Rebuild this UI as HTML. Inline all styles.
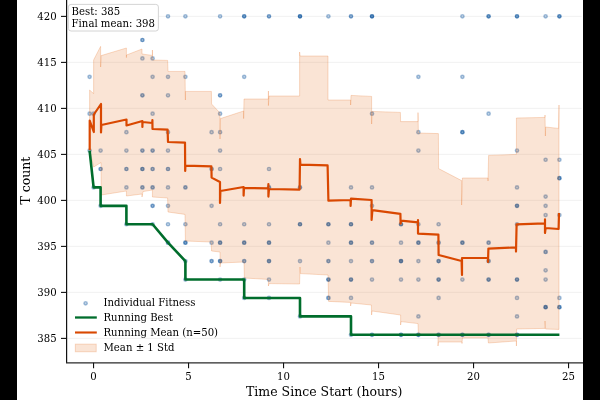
<!DOCTYPE html>
<html><head><meta charset="utf-8"><title>Fitness plot</title>
<style>
html,body{margin:0;padding:0;background:#000;}
body{width:600px;height:400px;overflow:hidden;}
svg{display:block;font-family:"DejaVu Serif","Liberation Serif",serif;}
text{fill:#000;}
</style></head><body>
<svg width="600" height="400" viewBox="0 0 600 400">
<rect x="0" y="0" width="600" height="400" fill="#000"/>
<rect x="17" y="0" width="566" height="400" fill="#fff"/>

<line x1="67" x2="581.7" y1="338.40" y2="338.40" stroke="#efefef" stroke-width="0.8"/>
<line x1="67" x2="581.7" y1="292.40" y2="292.40" stroke="#efefef" stroke-width="0.8"/>
<line x1="67" x2="581.7" y1="246.40" y2="246.40" stroke="#efefef" stroke-width="0.8"/>
<line x1="67" x2="581.7" y1="200.40" y2="200.40" stroke="#efefef" stroke-width="0.8"/>
<line x1="67" x2="581.7" y1="154.40" y2="154.40" stroke="#efefef" stroke-width="0.8"/>
<line x1="67" x2="581.7" y1="108.40" y2="108.40" stroke="#efefef" stroke-width="0.8"/>
<line x1="67" x2="581.7" y1="62.40" y2="62.40" stroke="#efefef" stroke-width="0.8"/>
<line x1="67" x2="581.7" y1="16.40" y2="16.40" stroke="#efefef" stroke-width="0.8"/>
<circle cx="89.60" cy="76.86" r="1.65" fill="#08519c" fill-opacity="0.240" stroke="#08519c" stroke-opacity="0.360" stroke-width="1.4"/>
<circle cx="89.60" cy="113.71" r="1.65" fill="#08519c" fill-opacity="0.240" stroke="#08519c" stroke-opacity="0.360" stroke-width="1.4"/>
<circle cx="89.60" cy="150.56" r="1.65" fill="#08519c" fill-opacity="0.240" stroke="#08519c" stroke-opacity="0.360" stroke-width="1.4"/>
<circle cx="93.60" cy="113.71" r="1.65" fill="#08519c" fill-opacity="0.240" stroke="#08519c" stroke-opacity="0.360" stroke-width="1.4"/>
<circle cx="93.60" cy="187.41" r="1.65" fill="#08519c" fill-opacity="0.240" stroke="#08519c" stroke-opacity="0.360" stroke-width="1.4"/>
<circle cx="100.60" cy="150.56" r="1.65" fill="#08519c" fill-opacity="0.240" stroke="#08519c" stroke-opacity="0.360" stroke-width="1.4"/>
<circle cx="100.60" cy="168.98" r="1.65" fill="#08519c" fill-opacity="0.406" stroke="#08519c" stroke-opacity="0.510" stroke-width="1.4"/>
<circle cx="100.60" cy="205.83" r="1.65" fill="#08519c" fill-opacity="0.240" stroke="#08519c" stroke-opacity="0.360" stroke-width="1.4"/>
<circle cx="126.40" cy="132.14" r="1.65" fill="#08519c" fill-opacity="0.240" stroke="#08519c" stroke-opacity="0.360" stroke-width="1.4"/>
<circle cx="126.40" cy="150.56" r="1.65" fill="#08519c" fill-opacity="0.240" stroke="#08519c" stroke-opacity="0.360" stroke-width="1.4"/>
<circle cx="126.40" cy="168.98" r="1.65" fill="#08519c" fill-opacity="0.406" stroke="#08519c" stroke-opacity="0.510" stroke-width="1.4"/>
<circle cx="126.40" cy="187.41" r="1.65" fill="#08519c" fill-opacity="0.240" stroke="#08519c" stroke-opacity="0.360" stroke-width="1.4"/>
<circle cx="126.40" cy="224.26" r="1.65" fill="#08519c" fill-opacity="0.240" stroke="#08519c" stroke-opacity="0.360" stroke-width="1.4"/>
<circle cx="142.40" cy="40.02" r="1.65" fill="#08519c" fill-opacity="0.406" stroke="#08519c" stroke-opacity="0.510" stroke-width="1.4"/>
<circle cx="142.40" cy="58.44" r="1.65" fill="#08519c" fill-opacity="0.240" stroke="#08519c" stroke-opacity="0.360" stroke-width="1.4"/>
<circle cx="142.40" cy="95.29" r="1.65" fill="#08519c" fill-opacity="0.406" stroke="#08519c" stroke-opacity="0.510" stroke-width="1.4"/>
<circle cx="142.40" cy="150.56" r="1.65" fill="#08519c" fill-opacity="0.406" stroke="#08519c" stroke-opacity="0.510" stroke-width="1.4"/>
<circle cx="142.40" cy="168.98" r="1.65" fill="#08519c" fill-opacity="0.536" stroke="#08519c" stroke-opacity="0.625" stroke-width="1.4"/>
<circle cx="142.40" cy="187.41" r="1.65" fill="#08519c" fill-opacity="0.406" stroke="#08519c" stroke-opacity="0.510" stroke-width="1.4"/>
<circle cx="152.60" cy="58.44" r="1.65" fill="#08519c" fill-opacity="0.240" stroke="#08519c" stroke-opacity="0.360" stroke-width="1.4"/>
<circle cx="152.60" cy="76.86" r="1.65" fill="#08519c" fill-opacity="0.240" stroke="#08519c" stroke-opacity="0.360" stroke-width="1.4"/>
<circle cx="152.60" cy="113.71" r="1.65" fill="#08519c" fill-opacity="0.240" stroke="#08519c" stroke-opacity="0.360" stroke-width="1.4"/>
<circle cx="152.60" cy="150.56" r="1.65" fill="#08519c" fill-opacity="0.406" stroke="#08519c" stroke-opacity="0.510" stroke-width="1.4"/>
<circle cx="152.60" cy="168.98" r="1.65" fill="#08519c" fill-opacity="0.406" stroke="#08519c" stroke-opacity="0.510" stroke-width="1.4"/>
<circle cx="152.60" cy="187.41" r="1.65" fill="#08519c" fill-opacity="0.406" stroke="#08519c" stroke-opacity="0.510" stroke-width="1.4"/>
<circle cx="152.60" cy="205.83" r="1.65" fill="#08519c" fill-opacity="0.406" stroke="#08519c" stroke-opacity="0.510" stroke-width="1.4"/>
<circle cx="152.60" cy="224.26" r="1.65" fill="#08519c" fill-opacity="0.240" stroke="#08519c" stroke-opacity="0.360" stroke-width="1.4"/>
<circle cx="168.00" cy="16.30" r="1.65" fill="#08519c" fill-opacity="0.240" stroke="#08519c" stroke-opacity="0.360" stroke-width="1.4"/>
<circle cx="168.00" cy="76.86" r="1.65" fill="#08519c" fill-opacity="0.240" stroke="#08519c" stroke-opacity="0.360" stroke-width="1.4"/>
<circle cx="168.00" cy="95.29" r="1.65" fill="#08519c" fill-opacity="0.240" stroke="#08519c" stroke-opacity="0.360" stroke-width="1.4"/>
<circle cx="168.00" cy="132.14" r="1.65" fill="#08519c" fill-opacity="0.240" stroke="#08519c" stroke-opacity="0.360" stroke-width="1.4"/>
<circle cx="168.00" cy="150.56" r="1.65" fill="#08519c" fill-opacity="0.240" stroke="#08519c" stroke-opacity="0.360" stroke-width="1.4"/>
<circle cx="168.00" cy="168.98" r="1.65" fill="#08519c" fill-opacity="0.406" stroke="#08519c" stroke-opacity="0.510" stroke-width="1.4"/>
<circle cx="168.00" cy="187.41" r="1.65" fill="#08519c" fill-opacity="0.240" stroke="#08519c" stroke-opacity="0.360" stroke-width="1.4"/>
<circle cx="168.00" cy="205.83" r="1.65" fill="#08519c" fill-opacity="0.240" stroke="#08519c" stroke-opacity="0.360" stroke-width="1.4"/>
<circle cx="168.00" cy="224.26" r="1.65" fill="#08519c" fill-opacity="0.240" stroke="#08519c" stroke-opacity="0.360" stroke-width="1.4"/>
<circle cx="168.00" cy="242.68" r="1.65" fill="#08519c" fill-opacity="0.406" stroke="#08519c" stroke-opacity="0.510" stroke-width="1.4"/>
<circle cx="185.40" cy="16.30" r="1.65" fill="#08519c" fill-opacity="0.240" stroke="#08519c" stroke-opacity="0.360" stroke-width="1.4"/>
<circle cx="185.40" cy="76.86" r="1.65" fill="#08519c" fill-opacity="0.240" stroke="#08519c" stroke-opacity="0.360" stroke-width="1.4"/>
<circle cx="185.40" cy="187.41" r="1.65" fill="#08519c" fill-opacity="0.406" stroke="#08519c" stroke-opacity="0.510" stroke-width="1.4"/>
<circle cx="185.40" cy="224.26" r="1.65" fill="#08519c" fill-opacity="0.240" stroke="#08519c" stroke-opacity="0.360" stroke-width="1.4"/>
<circle cx="185.40" cy="242.68" r="1.65" fill="#08519c" fill-opacity="0.536" stroke="#08519c" stroke-opacity="0.625" stroke-width="1.4"/>
<circle cx="185.40" cy="261.10" r="1.65" fill="#08519c" fill-opacity="0.240" stroke="#08519c" stroke-opacity="0.360" stroke-width="1.4"/>
<circle cx="185.40" cy="279.53" r="1.65" fill="#08519c" fill-opacity="0.240" stroke="#08519c" stroke-opacity="0.360" stroke-width="1.4"/>
<circle cx="211.60" cy="132.14" r="1.65" fill="#08519c" fill-opacity="0.240" stroke="#08519c" stroke-opacity="0.360" stroke-width="1.4"/>
<circle cx="211.60" cy="168.98" r="1.65" fill="#08519c" fill-opacity="0.406" stroke="#08519c" stroke-opacity="0.510" stroke-width="1.4"/>
<circle cx="211.60" cy="205.83" r="1.65" fill="#08519c" fill-opacity="0.240" stroke="#08519c" stroke-opacity="0.360" stroke-width="1.4"/>
<circle cx="211.60" cy="242.68" r="1.65" fill="#08519c" fill-opacity="0.240" stroke="#08519c" stroke-opacity="0.360" stroke-width="1.4"/>
<circle cx="211.60" cy="261.10" r="1.65" fill="#08519c" fill-opacity="0.406" stroke="#08519c" stroke-opacity="0.510" stroke-width="1.4"/>
<circle cx="220.10" cy="16.30" r="1.65" fill="#08519c" fill-opacity="0.240" stroke="#08519c" stroke-opacity="0.360" stroke-width="1.4"/>
<circle cx="220.10" cy="95.29" r="1.65" fill="#08519c" fill-opacity="0.406" stroke="#08519c" stroke-opacity="0.510" stroke-width="1.4"/>
<circle cx="220.10" cy="113.71" r="1.65" fill="#08519c" fill-opacity="0.240" stroke="#08519c" stroke-opacity="0.360" stroke-width="1.4"/>
<circle cx="220.10" cy="132.14" r="1.65" fill="#08519c" fill-opacity="0.240" stroke="#08519c" stroke-opacity="0.360" stroke-width="1.4"/>
<circle cx="220.10" cy="150.56" r="1.65" fill="#08519c" fill-opacity="0.240" stroke="#08519c" stroke-opacity="0.360" stroke-width="1.4"/>
<circle cx="220.10" cy="168.98" r="1.65" fill="#08519c" fill-opacity="0.240" stroke="#08519c" stroke-opacity="0.360" stroke-width="1.4"/>
<circle cx="220.10" cy="224.26" r="1.65" fill="#08519c" fill-opacity="0.240" stroke="#08519c" stroke-opacity="0.360" stroke-width="1.4"/>
<circle cx="220.10" cy="242.68" r="1.65" fill="#08519c" fill-opacity="0.536" stroke="#08519c" stroke-opacity="0.625" stroke-width="1.4"/>
<circle cx="220.10" cy="261.10" r="1.65" fill="#08519c" fill-opacity="0.536" stroke="#08519c" stroke-opacity="0.625" stroke-width="1.4"/>
<circle cx="220.10" cy="279.53" r="1.65" fill="#08519c" fill-opacity="0.240" stroke="#08519c" stroke-opacity="0.360" stroke-width="1.4"/>
<circle cx="244.20" cy="16.30" r="1.65" fill="#08519c" fill-opacity="0.536" stroke="#08519c" stroke-opacity="0.625" stroke-width="1.4"/>
<circle cx="244.20" cy="76.86" r="1.65" fill="#08519c" fill-opacity="0.240" stroke="#08519c" stroke-opacity="0.360" stroke-width="1.4"/>
<circle cx="244.20" cy="224.26" r="1.65" fill="#08519c" fill-opacity="0.240" stroke="#08519c" stroke-opacity="0.360" stroke-width="1.4"/>
<circle cx="244.20" cy="242.68" r="1.65" fill="#08519c" fill-opacity="0.536" stroke="#08519c" stroke-opacity="0.625" stroke-width="1.4"/>
<circle cx="244.20" cy="261.10" r="1.65" fill="#08519c" fill-opacity="0.406" stroke="#08519c" stroke-opacity="0.510" stroke-width="1.4"/>
<circle cx="244.20" cy="279.53" r="1.65" fill="#08519c" fill-opacity="0.240" stroke="#08519c" stroke-opacity="0.360" stroke-width="1.4"/>
<circle cx="244.20" cy="297.95" r="1.65" fill="#08519c" fill-opacity="0.240" stroke="#08519c" stroke-opacity="0.360" stroke-width="1.4"/>
<circle cx="269.00" cy="16.30" r="1.65" fill="#08519c" fill-opacity="0.406" stroke="#08519c" stroke-opacity="0.510" stroke-width="1.4"/>
<circle cx="269.00" cy="168.98" r="1.65" fill="#08519c" fill-opacity="0.240" stroke="#08519c" stroke-opacity="0.360" stroke-width="1.4"/>
<circle cx="269.00" cy="187.41" r="1.65" fill="#08519c" fill-opacity="0.406" stroke="#08519c" stroke-opacity="0.510" stroke-width="1.4"/>
<circle cx="269.00" cy="224.26" r="1.65" fill="#08519c" fill-opacity="0.240" stroke="#08519c" stroke-opacity="0.360" stroke-width="1.4"/>
<circle cx="269.00" cy="242.68" r="1.65" fill="#08519c" fill-opacity="0.536" stroke="#08519c" stroke-opacity="0.625" stroke-width="1.4"/>
<circle cx="269.00" cy="261.10" r="1.65" fill="#08519c" fill-opacity="0.536" stroke="#08519c" stroke-opacity="0.625" stroke-width="1.4"/>
<circle cx="269.00" cy="279.53" r="1.65" fill="#08519c" fill-opacity="0.240" stroke="#08519c" stroke-opacity="0.360" stroke-width="1.4"/>
<circle cx="269.00" cy="297.95" r="1.65" fill="#08519c" fill-opacity="0.240" stroke="#08519c" stroke-opacity="0.360" stroke-width="1.4"/>
<circle cx="300.00" cy="16.30" r="1.65" fill="#08519c" fill-opacity="0.638" stroke="#08519c" stroke-opacity="0.713" stroke-width="1.4"/>
<circle cx="300.00" cy="187.41" r="1.65" fill="#08519c" fill-opacity="0.406" stroke="#08519c" stroke-opacity="0.510" stroke-width="1.4"/>
<circle cx="300.00" cy="224.26" r="1.65" fill="#08519c" fill-opacity="0.536" stroke="#08519c" stroke-opacity="0.625" stroke-width="1.4"/>
<circle cx="300.00" cy="261.10" r="1.65" fill="#08519c" fill-opacity="0.240" stroke="#08519c" stroke-opacity="0.360" stroke-width="1.4"/>
<circle cx="300.00" cy="316.38" r="1.65" fill="#08519c" fill-opacity="0.240" stroke="#08519c" stroke-opacity="0.360" stroke-width="1.4"/>
<circle cx="328.40" cy="16.30" r="1.65" fill="#08519c" fill-opacity="0.240" stroke="#08519c" stroke-opacity="0.360" stroke-width="1.4"/>
<circle cx="328.40" cy="224.26" r="1.65" fill="#08519c" fill-opacity="0.536" stroke="#08519c" stroke-opacity="0.625" stroke-width="1.4"/>
<circle cx="328.40" cy="242.68" r="1.65" fill="#08519c" fill-opacity="0.240" stroke="#08519c" stroke-opacity="0.360" stroke-width="1.4"/>
<circle cx="328.40" cy="261.10" r="1.65" fill="#08519c" fill-opacity="0.406" stroke="#08519c" stroke-opacity="0.510" stroke-width="1.4"/>
<circle cx="328.40" cy="279.53" r="1.65" fill="#08519c" fill-opacity="0.536" stroke="#08519c" stroke-opacity="0.625" stroke-width="1.4"/>
<circle cx="328.40" cy="297.95" r="1.65" fill="#08519c" fill-opacity="0.406" stroke="#08519c" stroke-opacity="0.510" stroke-width="1.4"/>
<circle cx="351.00" cy="16.30" r="1.65" fill="#08519c" fill-opacity="0.406" stroke="#08519c" stroke-opacity="0.510" stroke-width="1.4"/>
<circle cx="351.00" cy="187.41" r="1.65" fill="#08519c" fill-opacity="0.240" stroke="#08519c" stroke-opacity="0.360" stroke-width="1.4"/>
<circle cx="351.00" cy="224.26" r="1.65" fill="#08519c" fill-opacity="0.536" stroke="#08519c" stroke-opacity="0.625" stroke-width="1.4"/>
<circle cx="351.00" cy="242.68" r="1.65" fill="#08519c" fill-opacity="0.536" stroke="#08519c" stroke-opacity="0.625" stroke-width="1.4"/>
<circle cx="351.00" cy="261.10" r="1.65" fill="#08519c" fill-opacity="0.240" stroke="#08519c" stroke-opacity="0.360" stroke-width="1.4"/>
<circle cx="351.00" cy="279.53" r="1.65" fill="#08519c" fill-opacity="0.536" stroke="#08519c" stroke-opacity="0.625" stroke-width="1.4"/>
<circle cx="351.00" cy="297.95" r="1.65" fill="#08519c" fill-opacity="0.240" stroke="#08519c" stroke-opacity="0.360" stroke-width="1.4"/>
<circle cx="351.00" cy="334.80" r="1.65" fill="#08519c" fill-opacity="0.240" stroke="#08519c" stroke-opacity="0.360" stroke-width="1.4"/>
<circle cx="372.00" cy="16.30" r="1.65" fill="#08519c" fill-opacity="0.638" stroke="#08519c" stroke-opacity="0.713" stroke-width="1.4"/>
<circle cx="372.00" cy="113.71" r="1.65" fill="#08519c" fill-opacity="0.240" stroke="#08519c" stroke-opacity="0.360" stroke-width="1.4"/>
<circle cx="372.00" cy="187.41" r="1.65" fill="#08519c" fill-opacity="0.240" stroke="#08519c" stroke-opacity="0.360" stroke-width="1.4"/>
<circle cx="372.00" cy="205.83" r="1.65" fill="#08519c" fill-opacity="0.240" stroke="#08519c" stroke-opacity="0.360" stroke-width="1.4"/>
<circle cx="372.00" cy="242.68" r="1.65" fill="#08519c" fill-opacity="0.406" stroke="#08519c" stroke-opacity="0.510" stroke-width="1.4"/>
<circle cx="372.00" cy="261.10" r="1.65" fill="#08519c" fill-opacity="0.406" stroke="#08519c" stroke-opacity="0.510" stroke-width="1.4"/>
<circle cx="372.00" cy="279.53" r="1.65" fill="#08519c" fill-opacity="0.240" stroke="#08519c" stroke-opacity="0.360" stroke-width="1.4"/>
<circle cx="372.00" cy="334.80" r="1.65" fill="#08519c" fill-opacity="0.406" stroke="#08519c" stroke-opacity="0.510" stroke-width="1.4"/>
<circle cx="401.00" cy="224.26" r="1.65" fill="#08519c" fill-opacity="0.536" stroke="#08519c" stroke-opacity="0.625" stroke-width="1.4"/>
<circle cx="401.00" cy="242.68" r="1.65" fill="#08519c" fill-opacity="0.240" stroke="#08519c" stroke-opacity="0.360" stroke-width="1.4"/>
<circle cx="401.00" cy="261.10" r="1.65" fill="#08519c" fill-opacity="0.638" stroke="#08519c" stroke-opacity="0.713" stroke-width="1.4"/>
<circle cx="401.00" cy="279.53" r="1.65" fill="#08519c" fill-opacity="0.240" stroke="#08519c" stroke-opacity="0.360" stroke-width="1.4"/>
<circle cx="401.00" cy="334.80" r="1.65" fill="#08519c" fill-opacity="0.536" stroke="#08519c" stroke-opacity="0.625" stroke-width="1.4"/>
<circle cx="418.40" cy="76.86" r="1.65" fill="#08519c" fill-opacity="0.240" stroke="#08519c" stroke-opacity="0.360" stroke-width="1.4"/>
<circle cx="418.40" cy="132.14" r="1.65" fill="#08519c" fill-opacity="0.240" stroke="#08519c" stroke-opacity="0.360" stroke-width="1.4"/>
<circle cx="418.40" cy="150.56" r="1.65" fill="#08519c" fill-opacity="0.240" stroke="#08519c" stroke-opacity="0.360" stroke-width="1.4"/>
<circle cx="418.40" cy="224.26" r="1.65" fill="#08519c" fill-opacity="0.240" stroke="#08519c" stroke-opacity="0.360" stroke-width="1.4"/>
<circle cx="418.40" cy="242.68" r="1.65" fill="#08519c" fill-opacity="0.536" stroke="#08519c" stroke-opacity="0.625" stroke-width="1.4"/>
<circle cx="418.40" cy="261.10" r="1.65" fill="#08519c" fill-opacity="0.240" stroke="#08519c" stroke-opacity="0.360" stroke-width="1.4"/>
<circle cx="418.40" cy="279.53" r="1.65" fill="#08519c" fill-opacity="0.240" stroke="#08519c" stroke-opacity="0.360" stroke-width="1.4"/>
<circle cx="418.40" cy="316.38" r="1.65" fill="#08519c" fill-opacity="0.240" stroke="#08519c" stroke-opacity="0.360" stroke-width="1.4"/>
<circle cx="418.40" cy="334.80" r="1.65" fill="#08519c" fill-opacity="0.536" stroke="#08519c" stroke-opacity="0.625" stroke-width="1.4"/>
<circle cx="438.60" cy="224.26" r="1.65" fill="#08519c" fill-opacity="0.240" stroke="#08519c" stroke-opacity="0.360" stroke-width="1.4"/>
<circle cx="438.60" cy="242.68" r="1.65" fill="#08519c" fill-opacity="0.406" stroke="#08519c" stroke-opacity="0.510" stroke-width="1.4"/>
<circle cx="438.60" cy="261.10" r="1.65" fill="#08519c" fill-opacity="0.536" stroke="#08519c" stroke-opacity="0.625" stroke-width="1.4"/>
<circle cx="438.60" cy="279.53" r="1.65" fill="#08519c" fill-opacity="0.536" stroke="#08519c" stroke-opacity="0.625" stroke-width="1.4"/>
<circle cx="438.60" cy="297.95" r="1.65" fill="#08519c" fill-opacity="0.240" stroke="#08519c" stroke-opacity="0.360" stroke-width="1.4"/>
<circle cx="438.60" cy="334.80" r="1.65" fill="#08519c" fill-opacity="0.536" stroke="#08519c" stroke-opacity="0.625" stroke-width="1.4"/>
<circle cx="462.40" cy="16.30" r="1.65" fill="#08519c" fill-opacity="0.240" stroke="#08519c" stroke-opacity="0.360" stroke-width="1.4"/>
<circle cx="462.40" cy="76.86" r="1.65" fill="#08519c" fill-opacity="0.240" stroke="#08519c" stroke-opacity="0.360" stroke-width="1.4"/>
<circle cx="462.40" cy="132.14" r="1.65" fill="#08519c" fill-opacity="0.536" stroke="#08519c" stroke-opacity="0.625" stroke-width="1.4"/>
<circle cx="462.40" cy="242.68" r="1.65" fill="#08519c" fill-opacity="0.536" stroke="#08519c" stroke-opacity="0.625" stroke-width="1.4"/>
<circle cx="462.40" cy="279.53" r="1.65" fill="#08519c" fill-opacity="0.240" stroke="#08519c" stroke-opacity="0.360" stroke-width="1.4"/>
<circle cx="462.40" cy="334.80" r="1.65" fill="#08519c" fill-opacity="0.536" stroke="#08519c" stroke-opacity="0.625" stroke-width="1.4"/>
<circle cx="488.60" cy="16.30" r="1.65" fill="#08519c" fill-opacity="0.536" stroke="#08519c" stroke-opacity="0.625" stroke-width="1.4"/>
<circle cx="488.60" cy="113.71" r="1.65" fill="#08519c" fill-opacity="0.240" stroke="#08519c" stroke-opacity="0.360" stroke-width="1.4"/>
<circle cx="488.60" cy="242.68" r="1.65" fill="#08519c" fill-opacity="0.406" stroke="#08519c" stroke-opacity="0.510" stroke-width="1.4"/>
<circle cx="488.60" cy="261.10" r="1.65" fill="#08519c" fill-opacity="0.406" stroke="#08519c" stroke-opacity="0.510" stroke-width="1.4"/>
<circle cx="488.60" cy="279.53" r="1.65" fill="#08519c" fill-opacity="0.536" stroke="#08519c" stroke-opacity="0.625" stroke-width="1.4"/>
<circle cx="488.60" cy="334.80" r="1.65" fill="#08519c" fill-opacity="0.536" stroke="#08519c" stroke-opacity="0.625" stroke-width="1.4"/>
<circle cx="517.00" cy="16.30" r="1.65" fill="#08519c" fill-opacity="0.536" stroke="#08519c" stroke-opacity="0.625" stroke-width="1.4"/>
<circle cx="517.00" cy="150.56" r="1.65" fill="#08519c" fill-opacity="0.240" stroke="#08519c" stroke-opacity="0.360" stroke-width="1.4"/>
<circle cx="517.00" cy="187.41" r="1.65" fill="#08519c" fill-opacity="0.240" stroke="#08519c" stroke-opacity="0.360" stroke-width="1.4"/>
<circle cx="517.00" cy="205.83" r="1.65" fill="#08519c" fill-opacity="0.536" stroke="#08519c" stroke-opacity="0.625" stroke-width="1.4"/>
<circle cx="517.00" cy="224.26" r="1.65" fill="#08519c" fill-opacity="0.240" stroke="#08519c" stroke-opacity="0.360" stroke-width="1.4"/>
<circle cx="517.00" cy="279.53" r="1.65" fill="#08519c" fill-opacity="0.536" stroke="#08519c" stroke-opacity="0.625" stroke-width="1.4"/>
<circle cx="517.00" cy="297.95" r="1.65" fill="#08519c" fill-opacity="0.240" stroke="#08519c" stroke-opacity="0.360" stroke-width="1.4"/>
<circle cx="517.00" cy="316.38" r="1.65" fill="#08519c" fill-opacity="0.240" stroke="#08519c" stroke-opacity="0.360" stroke-width="1.4"/>
<circle cx="517.00" cy="334.80" r="1.65" fill="#08519c" fill-opacity="0.536" stroke="#08519c" stroke-opacity="0.625" stroke-width="1.4"/>
<circle cx="545.60" cy="16.30" r="1.65" fill="#08519c" fill-opacity="0.240" stroke="#08519c" stroke-opacity="0.360" stroke-width="1.4"/>
<circle cx="545.60" cy="159.77" r="1.65" fill="#08519c" fill-opacity="0.240" stroke="#08519c" stroke-opacity="0.360" stroke-width="1.4"/>
<circle cx="545.60" cy="196.62" r="1.65" fill="#08519c" fill-opacity="0.240" stroke="#08519c" stroke-opacity="0.360" stroke-width="1.4"/>
<circle cx="545.60" cy="205.83" r="1.65" fill="#08519c" fill-opacity="0.240" stroke="#08519c" stroke-opacity="0.360" stroke-width="1.4"/>
<circle cx="545.60" cy="215.04" r="1.65" fill="#08519c" fill-opacity="0.240" stroke="#08519c" stroke-opacity="0.360" stroke-width="1.4"/>
<circle cx="545.60" cy="251.89" r="1.65" fill="#08519c" fill-opacity="0.406" stroke="#08519c" stroke-opacity="0.510" stroke-width="1.4"/>
<circle cx="545.60" cy="270.32" r="1.65" fill="#08519c" fill-opacity="0.240" stroke="#08519c" stroke-opacity="0.360" stroke-width="1.4"/>
<circle cx="545.60" cy="279.53" r="1.65" fill="#08519c" fill-opacity="0.240" stroke="#08519c" stroke-opacity="0.360" stroke-width="1.4"/>
<circle cx="545.60" cy="307.16" r="1.65" fill="#08519c" fill-opacity="0.638" stroke="#08519c" stroke-opacity="0.713" stroke-width="1.4"/>
<circle cx="559.40" cy="16.30" r="1.65" fill="#08519c" fill-opacity="0.536" stroke="#08519c" stroke-opacity="0.625" stroke-width="1.4"/>
<circle cx="559.40" cy="159.77" r="1.65" fill="#08519c" fill-opacity="0.240" stroke="#08519c" stroke-opacity="0.360" stroke-width="1.4"/>
<circle cx="559.40" cy="178.20" r="1.65" fill="#08519c" fill-opacity="0.536" stroke="#08519c" stroke-opacity="0.625" stroke-width="1.4"/>
<circle cx="559.40" cy="215.04" r="1.65" fill="#08519c" fill-opacity="0.240" stroke="#08519c" stroke-opacity="0.360" stroke-width="1.4"/>
<circle cx="559.40" cy="297.95" r="1.65" fill="#08519c" fill-opacity="0.240" stroke="#08519c" stroke-opacity="0.360" stroke-width="1.4"/>
<circle cx="559.40" cy="307.16" r="1.65" fill="#08519c" fill-opacity="0.536" stroke="#08519c" stroke-opacity="0.625" stroke-width="1.4"/>
<polygon points="89.60,150.00 89.60,90.00 93.60,93.60 93.60,60.00 100.60,46.40 100.60,67.00 101.20,55.60 126.40,48.00 126.40,57.60 126.50,55.00 142.00,49.00 142.00,54.00 152.40,55.40 152.40,50.00 152.60,60.00 167.60,60.40 168.00,71.40 185.00,71.40 185.40,100.00 185.40,91.40 211.40,91.40 211.60,104.00 220.00,113.00 220.00,139.00 220.40,118.60 243.60,111.00 243.60,118.60 244.00,99.00 268.40,99.00 268.40,91.00 268.40,105.60 269.00,96.00 299.60,96.00 299.60,52.00 300.00,56.00 328.00,56.00 328.00,100.00 350.60,100.00 350.60,105.00 351.00,95.40 371.60,96.40 371.60,124.00 372.00,111.40 400.40,112.40 400.60,121.60 418.00,121.60 418.00,112.60 418.40,133.00 438.40,133.60 438.60,168.60 461.60,180.60 461.60,205.00 462.40,178.00 488.00,178.00 488.00,181.00 488.60,155.40 516.40,154.40 516.40,118.00 545.00,117.40 545.00,115.00 545.40,136.00 545.60,127.00 558.60,128.40 559.00,105.00 559.00,329.40 558.60,329.40 545.60,329.00 545.00,321.00 545.00,328.40 516.60,329.00 516.40,346.00 516.40,341.00 488.40,343.00 488.00,338.00 462.40,338.00 462.00,343.50 462.00,342.00 438.40,342.00 438.00,346.00 438.00,335.50 418.40,335.00 418.00,323.60 401.00,321.60 400.60,325.00 400.60,315.00 372.00,311.00 371.60,315.00 371.40,305.00 351.00,303.00 350.60,306.00 350.60,302.40 328.60,301.40 328.00,275.00 300.40,273.60 300.00,267.00 299.60,284.00 269.00,283.60 268.40,286.00 268.40,279.40 244.40,278.00 244.00,262.00 220.40,263.00 220.00,267.00 220.00,252.00 211.60,251.00 211.00,242.00 185.40,241.00 185.00,214.40 168.00,212.00 167.60,198.00 152.40,197.00 152.40,190.00 143.00,191.60 142.00,197.00 142.00,194.00 126.40,196.00 126.40,191.00 101.20,195.00 101.00,162.50 93.70,167.00 89.70,150.00" fill="#e25c00" fill-opacity="0.165" stroke="#e25c00" stroke-opacity="0.23" stroke-width="0.9" stroke-linejoin="round"/>
<polyline points="89.70,150.00 89.70,120.50 93.80,132.00 93.80,114.50 101.00,104.00 101.00,132.50 101.40,125.00 126.50,119.50 126.50,125.50 142.40,121.00 142.40,127.00 142.50,122.00 152.40,123.00 152.40,120.00 152.50,129.00 167.60,129.60 168.00,142.00 185.00,142.60 185.20,171.00 185.40,165.60 211.40,166.40 211.60,177.60 220.00,182.00 220.00,203.00 220.40,191.00 243.60,187.00 243.60,195.60 244.00,188.00 268.40,188.40 268.40,184.00 268.40,196.60 269.00,189.00 299.60,189.60 300.00,159.00 300.40,164.60 327.60,165.40 328.40,200.60 350.60,200.00 350.60,206.00 351.00,198.60 371.60,200.00 371.60,220.00 372.40,210.20 400.40,213.80 400.60,223.60 401.00,220.60 418.00,222.40 418.00,220.00 418.00,233.60 438.40,234.60 438.60,255.00 461.60,261.00 462.00,275.00 462.00,258.00 488.00,258.00 488.00,262.00 488.40,248.60 516.00,247.40 516.00,251.60 516.60,224.40 545.00,223.40 545.00,219.40 545.00,233.00 545.60,228.00 558.60,229.00 559.00,213.00" fill="none" stroke="#d94801" stroke-width="2.2" stroke-linejoin="round" stroke-linecap="butt"/>
<polyline points="89.60,150.56 93.60,187.41 100.60,187.41 100.60,205.83 126.40,205.83 126.40,224.26 152.60,224.26 168.00,242.68 185.40,261.10 185.40,279.53 244.20,279.53 244.20,297.95 300.00,297.95 300.00,316.38 351.00,316.38 351.00,334.80 559.40,334.80" fill="none" stroke="#006d2c" stroke-width="2.6" stroke-linejoin="round" stroke-linecap="butt"/>
<line x1="66.6" x2="66.6" y1="0" y2="363" stroke="#111" stroke-width="1.2"/>
<line x1="66" x2="583" y1="362.85" y2="362.85" stroke="#2a2a2a" stroke-width="1.15"/>
<line x1="61" x2="66.6" y1="338.40" y2="338.40" stroke="#111" stroke-width="1.1"/>
<text x="56.6" y="342.00" font-size="10.13" text-anchor="end">385</text>
<line x1="61" x2="66.6" y1="292.40" y2="292.40" stroke="#111" stroke-width="1.1"/>
<text x="56.6" y="296.00" font-size="10.13" text-anchor="end">390</text>
<line x1="61" x2="66.6" y1="246.40" y2="246.40" stroke="#111" stroke-width="1.1"/>
<text x="56.6" y="250.00" font-size="10.13" text-anchor="end">395</text>
<line x1="61" x2="66.6" y1="200.40" y2="200.40" stroke="#111" stroke-width="1.1"/>
<text x="56.6" y="204.00" font-size="10.13" text-anchor="end">400</text>
<line x1="61" x2="66.6" y1="154.40" y2="154.40" stroke="#111" stroke-width="1.1"/>
<text x="56.6" y="158.00" font-size="10.13" text-anchor="end">405</text>
<line x1="61" x2="66.6" y1="108.40" y2="108.40" stroke="#111" stroke-width="1.1"/>
<text x="56.6" y="112.00" font-size="10.13" text-anchor="end">410</text>
<line x1="61" x2="66.6" y1="62.40" y2="62.40" stroke="#111" stroke-width="1.1"/>
<text x="56.6" y="66.00" font-size="10.13" text-anchor="end">415</text>
<line x1="61" x2="66.6" y1="16.40" y2="16.40" stroke="#111" stroke-width="1.1"/>
<text x="56.6" y="20.00" font-size="10.13" text-anchor="end">420</text>
<line x1="93.55" x2="93.55" y1="362.85" y2="368.2" stroke="#111" stroke-width="1.1"/>
<text x="93.55" y="379.6" font-size="10.13" text-anchor="middle">0</text>
<line x1="188.55" x2="188.55" y1="362.85" y2="368.2" stroke="#111" stroke-width="1.1"/>
<text x="188.55" y="379.6" font-size="10.13" text-anchor="middle">5</text>
<line x1="283.55" x2="283.55" y1="362.85" y2="368.2" stroke="#111" stroke-width="1.1"/>
<text x="283.55" y="379.6" font-size="10.13" text-anchor="middle">10</text>
<line x1="378.55" x2="378.55" y1="362.85" y2="368.2" stroke="#111" stroke-width="1.1"/>
<text x="378.55" y="379.6" font-size="10.13" text-anchor="middle">15</text>
<line x1="473.55" x2="473.55" y1="362.85" y2="368.2" stroke="#111" stroke-width="1.1"/>
<text x="473.55" y="379.6" font-size="10.13" text-anchor="middle">20</text>
<line x1="568.55" x2="568.55" y1="362.85" y2="368.2" stroke="#111" stroke-width="1.1"/>
<text x="568.55" y="379.6" font-size="10.13" text-anchor="middle">25</text>
<text x="324.2" y="395.5" font-size="12.5" text-anchor="middle">Time Since Start (hours)</text>
<text transform="translate(30,180.6) rotate(-90)" font-size="12.5" text-anchor="middle">T count</text>
<rect x="68.4" y="4.4" width="90" height="26.6" rx="2.6" ry="2.6" fill="#fff" fill-opacity="0.9" stroke="#cfcfcf" stroke-width="0.9"/>
<text x="71.6" y="14.8" font-size="10.13">Best: 385</text>
<text x="71.6" y="26.7" font-size="10.13">Final mean: 398</text>
<circle cx="85.60" cy="303.30" r="1.65" fill="#08519c" fill-opacity="0.240" stroke="#08519c" stroke-opacity="0.360" stroke-width="1.4"/>
<text x="103.5" y="305.8" font-size="10.13">Individual Fitness</text>
<line x1="75" x2="96.8" y1="317.5" y2="317.5" stroke="#006d2c" stroke-width="2.3"/>
<text x="103.5" y="320.6" font-size="10.13">Running Best</text>
<line x1="75" x2="96.8" y1="332.5" y2="332.5" stroke="#d94801" stroke-width="2.1"/>
<text x="103.5" y="335.8" font-size="10.13">Running Mean (n=50)</text>
<rect x="75.3" y="344.1" width="20.9" height="7.7" fill="#e25c00" fill-opacity="0.165" stroke="#e25c00" stroke-opacity="0.23" stroke-width="0.9"/>
<text x="103.5" y="350.6" font-size="10.13">Mean ± 1 Std</text>
<rect x="0" y="0" width="17" height="400" fill="#000"/><rect x="583" y="0" width="17" height="400" fill="#000"/>
</svg></body></html>
